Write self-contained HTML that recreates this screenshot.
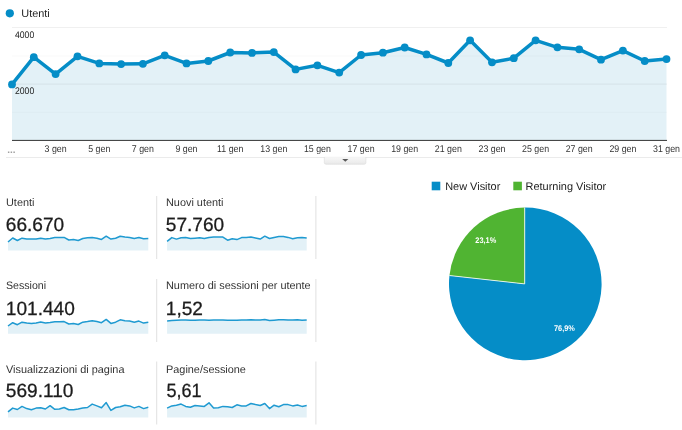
<!DOCTYPE html>
<html><head><meta charset="utf-8"><title>Analytics</title>
<style>
html,body{margin:0;padding:0;background:#fff;}
body{width:682px;height:430px;position:relative;overflow:hidden;font-family:"Liberation Sans",Arial,sans-serif;color:#222;}
svg{position:absolute;left:0;top:0;display:block;}
svg text{font-family:"Liberation Sans",Arial,sans-serif;text-rendering:geometricPrecision;}
</style></head><body>
<svg width="682" height="430" viewBox="0 0 682 430">
<!-- main chart -->
<circle cx="9.8" cy="13.3" r="4.1" fill="#058dc7"/>
<text x="21.3" y="17.4" font-size="10.9" fill="#222">Utenti</text>
<rect x="12" y="27" width="655" height="1" fill="#f0f0f0"/>
<polygon points="12.0,140.4 12.0,84.4 33.8,57.2 55.6,74.1 77.5,56.3 99.3,63.4 121.1,64.1 142.9,63.8 164.7,55.3 186.5,63.4 208.3,61.0 230.2,52.5 252.0,52.9 273.8,52.1 295.6,69.4 317.4,65.3 339.2,72.6 361.1,55.0 382.9,52.7 404.7,47.5 426.5,54.4 448.3,63.0 470.1,40.3 492.0,62.3 513.8,58.2 535.6,40.3 557.4,47.3 579.2,49.3 601.0,59.7 622.9,50.6 644.7,61.0 666.5,59.1 666.5,140.4" fill="#e3f1f7"/>
<rect x="12" y="55.5" width="655" height="1" fill="#000" opacity="0.025"/>
<rect x="12" y="83.6" width="655" height="1" fill="#000" opacity="0.06"/>
<rect x="12" y="111.8" width="655" height="1" fill="#000" opacity="0.025"/>
<polyline points="12.0,84.4 33.8,57.2 55.6,74.1 77.5,56.3 99.3,63.4 121.1,64.1 142.9,63.8 164.7,55.3 186.5,63.4 208.3,61.0 230.2,52.5 252.0,52.9 273.8,52.1 295.6,69.4 317.4,65.3 339.2,72.6 361.1,55.0 382.9,52.7 404.7,47.5 426.5,54.4 448.3,63.0 470.1,40.3 492.0,62.3 513.8,58.2 535.6,40.3 557.4,47.3 579.2,49.3 601.0,59.7 622.9,50.6 644.7,61.0 666.5,59.1" fill="none" stroke="#058dc7" stroke-width="3.5" stroke-linejoin="round" stroke-linecap="round"/>
<g fill="#058dc7"><circle cx="12.0" cy="84.4" r="3.9"/><circle cx="33.8" cy="57.2" r="3.9"/><circle cx="55.6" cy="74.1" r="3.9"/><circle cx="77.5" cy="56.3" r="3.9"/><circle cx="99.3" cy="63.4" r="3.9"/><circle cx="121.1" cy="64.1" r="3.9"/><circle cx="142.9" cy="63.8" r="3.9"/><circle cx="164.7" cy="55.3" r="3.9"/><circle cx="186.5" cy="63.4" r="3.9"/><circle cx="208.3" cy="61.0" r="3.9"/><circle cx="230.2" cy="52.5" r="3.9"/><circle cx="252.0" cy="52.9" r="3.9"/><circle cx="273.8" cy="52.1" r="3.9"/><circle cx="295.6" cy="69.4" r="3.9"/><circle cx="317.4" cy="65.3" r="3.9"/><circle cx="339.2" cy="72.6" r="3.9"/><circle cx="361.1" cy="55.0" r="3.9"/><circle cx="382.9" cy="52.7" r="3.9"/><circle cx="404.7" cy="47.5" r="3.9"/><circle cx="426.5" cy="54.4" r="3.9"/><circle cx="448.3" cy="63.0" r="3.9"/><circle cx="470.1" cy="40.3" r="3.9"/><circle cx="492.0" cy="62.3" r="3.9"/><circle cx="513.8" cy="58.2" r="3.9"/><circle cx="535.6" cy="40.3" r="3.9"/><circle cx="557.4" cy="47.3" r="3.9"/><circle cx="579.2" cy="49.3" r="3.9"/><circle cx="601.0" cy="59.7" r="3.9"/><circle cx="622.9" cy="50.6" r="3.9"/><circle cx="644.7" cy="61.0" r="3.9"/><circle cx="666.5" cy="59.1" r="3.9"/></g>
<rect x="12" y="139.9" width="655" height="1" fill="#333"/>
<g font-size="9.6" fill="#222"><text transform="translate(15.0,38.1) scale(0.9,1)" text-anchor="start">4000</text><text transform="translate(15.0,94.1) scale(0.9,1)" text-anchor="start">2000</text></g>
<g font-size="9.8" fill="#333"><text transform="translate(55.6,152.4) scale(0.9,1)" text-anchor="middle">3 gen</text><text transform="translate(99.3,152.4) scale(0.9,1)" text-anchor="middle">5 gen</text><text transform="translate(142.9,152.4) scale(0.9,1)" text-anchor="middle">7 gen</text><text transform="translate(186.5,152.4) scale(0.9,1)" text-anchor="middle">9 gen</text><text transform="translate(230.2,152.4) scale(0.9,1)" text-anchor="middle">11 gen</text><text transform="translate(273.8,152.4) scale(0.9,1)" text-anchor="middle">13 gen</text><text transform="translate(317.4,152.4) scale(0.9,1)" text-anchor="middle">15 gen</text><text transform="translate(361.1,152.4) scale(0.9,1)" text-anchor="middle">17 gen</text><text transform="translate(404.7,152.4) scale(0.9,1)" text-anchor="middle">19 gen</text><text transform="translate(448.3,152.4) scale(0.9,1)" text-anchor="middle">21 gen</text><text transform="translate(492.0,152.4) scale(0.9,1)" text-anchor="middle">23 gen</text><text transform="translate(535.6,152.4) scale(0.9,1)" text-anchor="middle">25 gen</text><text transform="translate(579.2,152.4) scale(0.9,1)" text-anchor="middle">27 gen</text><text transform="translate(622.9,152.4) scale(0.9,1)" text-anchor="middle">29 gen</text><text transform="translate(666.5,152.4) scale(0.9,1)" text-anchor="middle">31 gen</text></g>
<text x="7.2" y="153" font-size="10" font-weight="bold" fill="#a0a0a0">...</text>
<rect x="6" y="157" width="676" height="1" fill="#ebebeb"/>
<defs><linearGradient id="tg" x1="0" y1="0" x2="0" y2="1"><stop offset="0" stop-color="#f7f7f7"/><stop offset="1" stop-color="#e9e9e9"/></linearGradient></defs>
<path d="M324.3,157.4 h41.6 v5.2 a1.6,1.6 0 0 1 -1.6,1.6 h-38.4 a1.6,1.6 0 0 1 -1.6,-1.6 z" fill="url(#tg)" stroke="#dadada" stroke-width="0.6"/>
<rect x="324.8" y="156.9" width="40.6" height="1" fill="#f5f5f5"/>
<path d="M342.2,158.9 h6.2 l-3.1,2.8 z" fill="#5a5a5a"/>
<!-- separators -->
<g fill="#e0e0e0"><rect x="156.2" y="196" width="1" height="63"/><rect x="315.4" y="196" width="1" height="63"/><rect x="156.2" y="279" width="1" height="63"/><rect x="315.4" y="279" width="1" height="63"/><rect x="156.2" y="361.5" width="1" height="63"/><rect x="315.4" y="361.5" width="1" height="63"/></g>
<polygon points="8.0,250.6 8.0,242.0 12.7,238.0 17.4,240.5 22.0,238.2 26.7,238.9 31.4,239.1 36.1,238.9 40.7,238.2 45.4,238.9 50.1,238.5 54.8,237.6 59.4,237.6 64.1,237.4 68.8,240.0 73.5,239.6 78.2,240.5 82.8,238.5 87.5,237.8 92.2,237.4 96.9,238.2 101.5,239.4 106.2,236.2 110.9,239.1 115.6,238.2 120.2,236.2 124.9,236.9 129.6,237.4 134.3,238.5 138.9,237.6 143.6,238.7 148.3,238.5 148.3,250.6" fill="#e3f1f7"/><polyline points="8.0,242.0 12.7,238.0 17.4,240.5 22.0,238.2 26.7,238.9 31.4,239.1 36.1,238.9 40.7,238.2 45.4,238.9 50.1,238.5 54.8,237.6 59.4,237.6 64.1,237.4 68.8,240.0 73.5,239.6 78.2,240.5 82.8,238.5 87.5,237.8 92.2,237.4 96.9,238.2 101.5,239.4 106.2,236.2 110.9,239.1 115.6,238.2 120.2,236.2 124.9,236.9 129.6,237.4 134.3,238.5 138.9,237.6 143.6,238.7 148.3,238.5" fill="none" stroke="#1f9ad1" stroke-width="1.5" stroke-linejoin="round" stroke-linecap="butt"/>
<text transform="translate(6.0,205.5) scale(1,1)" font-size="10.9" fill="#333">Utenti</text><text transform="translate(5.8,230.9) scale(1,1)" font-size="19.1" fill="#1c1c1c" stroke="#1c1c1c" stroke-width="0.3">66.670</text>
<polygon points="167.1,250.6 167.1,241.4 171.8,237.6 176.4,239.1 181.1,237.8 185.7,237.6 190.4,238.5 195.0,238.2 199.7,237.8 204.3,238.5 209.0,237.4 213.6,237.1 218.3,237.1 222.9,237.1 227.6,240.2 232.2,238.7 236.9,239.6 241.6,237.6 246.2,237.4 250.9,237.1 255.5,238.0 260.2,239.1 264.8,236.2 269.5,238.5 274.1,237.4 278.8,236.5 283.4,236.5 288.1,237.4 292.7,238.7 297.4,237.8 302.0,237.4 306.7,238.0 306.7,250.6" fill="#e3f1f7"/><polyline points="167.1,241.4 171.8,237.6 176.4,239.1 181.1,237.8 185.7,237.6 190.4,238.5 195.0,238.2 199.7,237.8 204.3,238.5 209.0,237.4 213.6,237.1 218.3,237.1 222.9,237.1 227.6,240.2 232.2,238.7 236.9,239.6 241.6,237.6 246.2,237.4 250.9,237.1 255.5,238.0 260.2,239.1 264.8,236.2 269.5,238.5 274.1,237.4 278.8,236.5 283.4,236.5 288.1,237.4 292.7,238.7 297.4,237.8 302.0,237.4 306.7,238.0" fill="none" stroke="#1f9ad1" stroke-width="1.5" stroke-linejoin="round" stroke-linecap="butt"/>
<text transform="translate(166.0,205.5) scale(1,1)" font-size="10.9" fill="#333">Nuovi utenti</text><text transform="translate(165.8,230.9) scale(1,1)" font-size="19.1" fill="#1c1c1c" stroke="#1c1c1c" stroke-width="0.3">57.760</text>
<polygon points="8.0,333.8 8.0,326.0 12.7,322.7 17.4,324.7 22.0,322.2 26.7,323.1 31.4,323.4 36.1,322.9 40.7,322.0 45.4,322.9 50.1,322.5 54.8,321.8 59.4,321.8 64.1,321.6 68.8,324.0 73.5,323.4 78.2,324.5 82.8,322.2 87.5,321.6 92.2,320.7 96.9,321.6 101.5,322.7 106.2,319.4 110.9,323.4 115.6,322.2 120.2,319.8 124.9,320.7 129.6,321.1 134.3,322.2 138.9,321.1 143.6,323.1 148.3,322.2 148.3,333.8" fill="#e3f1f7"/><polyline points="8.0,326.0 12.7,322.7 17.4,324.7 22.0,322.2 26.7,323.1 31.4,323.4 36.1,322.9 40.7,322.0 45.4,322.9 50.1,322.5 54.8,321.8 59.4,321.8 64.1,321.6 68.8,324.0 73.5,323.4 78.2,324.5 82.8,322.2 87.5,321.6 92.2,320.7 96.9,321.6 101.5,322.7 106.2,319.4 110.9,323.4 115.6,322.2 120.2,319.8 124.9,320.7 129.6,321.1 134.3,322.2 138.9,321.1 143.6,323.1 148.3,322.2" fill="none" stroke="#1f9ad1" stroke-width="1.5" stroke-linejoin="round" stroke-linecap="butt"/>
<text transform="translate(6.0,288.8) scale(0.975,1)" font-size="10.9" fill="#333">Sessioni</text><text transform="translate(5.8,314.9) scale(1,1)" font-size="19.1" fill="#1c1c1c" stroke="#1c1c1c" stroke-width="0.3">101.440</text>
<polygon points="167.1,333.8 167.1,320.9 171.8,320.5 176.4,320.2 181.1,320.0 185.7,320.0 190.4,320.2 195.0,320.2 199.7,320.0 204.3,320.0 209.0,320.2 213.6,320.0 218.3,320.0 222.9,320.0 227.6,320.2 232.2,320.2 236.9,320.2 241.6,320.0 246.2,320.0 250.9,319.8 255.5,320.0 260.2,320.0 264.8,319.4 269.5,320.5 274.1,320.2 278.8,319.8 283.4,319.8 288.1,320.0 292.7,320.0 297.4,319.8 302.0,320.2 306.7,320.0 306.7,333.8" fill="#e3f1f7"/><polyline points="167.1,320.9 171.8,320.5 176.4,320.2 181.1,320.0 185.7,320.0 190.4,320.2 195.0,320.2 199.7,320.0 204.3,320.0 209.0,320.2 213.6,320.0 218.3,320.0 222.9,320.0 227.6,320.2 232.2,320.2 236.9,320.2 241.6,320.0 246.2,320.0 250.9,319.8 255.5,320.0 260.2,320.0 264.8,319.4 269.5,320.5 274.1,320.2 278.8,319.8 283.4,319.8 288.1,320.0 292.7,320.0 297.4,319.8 302.0,320.2 306.7,320.0" fill="none" stroke="#1f9ad1" stroke-width="1.5" stroke-linejoin="round" stroke-linecap="butt"/>
<text transform="translate(166.0,288.8) scale(1,1)" font-size="10.9" fill="#333">Numero di sessioni per utente</text><text transform="translate(165.8,314.9) scale(1,1)" font-size="19.1" fill="#1c1c1c" stroke="#1c1c1c" stroke-width="0.3">1,52</text>
<polygon points="8.0,417.4 8.0,411.9 12.7,408.1 17.4,409.5 22.0,406.4 26.7,408.6 31.4,409.7 36.1,408.1 40.7,407.7 45.4,409.0 50.1,405.7 54.8,409.3 59.4,409.0 64.1,407.5 68.8,409.7 73.5,409.7 78.2,409.0 82.8,407.9 87.5,407.5 92.2,404.1 96.9,405.9 101.5,407.7 106.2,402.6 110.9,410.4 115.6,407.5 120.2,406.8 124.9,405.2 129.6,405.9 134.3,407.9 138.9,406.4 143.6,408.6 148.3,407.3 148.3,417.4" fill="#e3f1f7"/><polyline points="8.0,411.9 12.7,408.1 17.4,409.5 22.0,406.4 26.7,408.6 31.4,409.7 36.1,408.1 40.7,407.7 45.4,409.0 50.1,405.7 54.8,409.3 59.4,409.0 64.1,407.5 68.8,409.7 73.5,409.7 78.2,409.0 82.8,407.9 87.5,407.5 92.2,404.1 96.9,405.9 101.5,407.7 106.2,402.6 110.9,410.4 115.6,407.5 120.2,406.8 124.9,405.2 129.6,405.9 134.3,407.9 138.9,406.4 143.6,408.6 148.3,407.3" fill="none" stroke="#1f9ad1" stroke-width="1.5" stroke-linejoin="round" stroke-linecap="butt"/>
<text transform="translate(6.0,372.8) scale(1,1)" font-size="10.9" fill="#333">Visualizzazioni di pagina</text><text transform="translate(5.8,397.4) scale(1,1)" font-size="19.1" fill="#1c1c1c" stroke="#1c1c1c" stroke-width="0.3">569.110</text>
<polygon points="167.1,417.4 167.1,408.1 171.8,405.9 176.4,405.2 181.1,404.1 185.7,406.4 190.4,407.3 195.0,405.5 199.7,405.9 204.3,406.4 209.0,402.8 213.6,408.1 218.3,407.7 222.9,406.4 227.6,406.8 232.2,407.5 236.9,404.8 241.6,405.9 246.2,405.9 250.9,403.5 255.5,404.6 260.2,405.5 264.8,403.5 269.5,408.6 274.1,405.2 278.8,406.8 283.4,404.6 288.1,404.6 292.7,405.9 297.4,405.0 302.0,406.4 306.7,405.5 306.7,417.4" fill="#e3f1f7"/><polyline points="167.1,408.1 171.8,405.9 176.4,405.2 181.1,404.1 185.7,406.4 190.4,407.3 195.0,405.5 199.7,405.9 204.3,406.4 209.0,402.8 213.6,408.1 218.3,407.7 222.9,406.4 227.6,406.8 232.2,407.5 236.9,404.8 241.6,405.9 246.2,405.9 250.9,403.5 255.5,404.6 260.2,405.5 264.8,403.5 269.5,408.6 274.1,405.2 278.8,406.8 283.4,404.6 288.1,404.6 292.7,405.9 297.4,405.0 302.0,406.4 306.7,405.5" fill="none" stroke="#1f9ad1" stroke-width="1.5" stroke-linejoin="round" stroke-linecap="butt"/>
<text transform="translate(166.0,372.8) scale(1,1)" font-size="10.9" fill="#333">Pagine/sessione</text><text transform="translate(166.4,397.4) scale(0.945,1)" font-size="19.1" fill="#1c1c1c" stroke="#1c1c1c" stroke-width="0.3">5,61</text>

<!-- pie -->
<rect x="431.7" y="181.7" width="8.6" height="8.6" fill="#058dc7"/>
<text x="445.2" y="190.2" font-size="10.95" fill="#222">New Visitor</text>
<rect x="513.3" y="181.7" width="8.6" height="8.6" fill="#50b432"/>
<text x="525.6" y="190.2" font-size="10.95" fill="#222">Returning Visitor</text>
<path d="M524.6999999999999,283.9 L524.6999999999999,207.59999999999997 A76.3,76.3 0 1 1 449.46,275.53 Z" fill="#058dc7"/><path d="M524.6999999999999,283.9 L524.6999999999999,207.59999999999997 A76.3,76.3 0 0 0 449.46,275.53 Z" fill="#50b432"/><path d="M524.6999999999999,207.59999999999997 L524.6999999999999,283.9 L449.46,275.53" fill="none" stroke="#fff" stroke-width="0.9" stroke-linejoin="miter" opacity="0.9"/>
<text transform="translate(485.8,242.9) scale(0.9,1)" font-size="8.2" font-weight="bold" fill="#fff" text-anchor="middle">23,1%</text>
<text transform="translate(564.4,330.8) scale(0.9,1)" font-size="8.2" font-weight="bold" fill="#fff" text-anchor="middle">76,9%</text>
</svg>
</body></html>
